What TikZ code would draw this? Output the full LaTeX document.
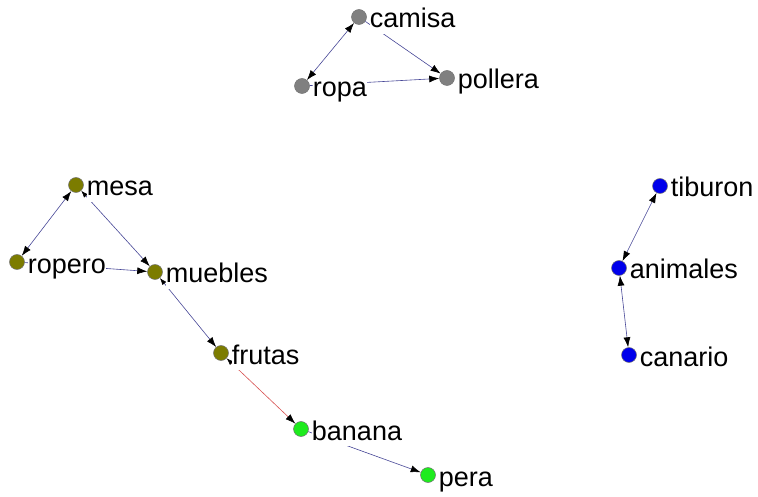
\documentclass[tikz,border=0pt]{standalone}
\usepackage{fontspec}
\setmainfont{Liberation Sans}
\usetikzlibrary{arrows.meta}

\definecolor{trait}{RGB}{70,70,150}
\definecolor{rouge}{RGB}{215,80,80}
\definecolor{gris}{RGB}{128,128,128}
\definecolor{olive}{RGB}{124,124,0}
\definecolor{vert}{RGB}{30,235,30}
\definecolor{bleu}{RGB}{0,0,235}

\tikzset{pointe/.tip={Latex[color=black,length=10pt,width=7pt]},
  petite/.tip={Latex[color=black,length=7pt,width=5pt]}}

\begin{document}
\begin{tikzpicture}[x=1pt,y=-1pt,
  sommet/.style={circle,draw=black!55,line width=0.5pt,minimum size=15pt,inner sep=0pt},
  arc/.style={draw=trait,line width=0.6pt},
  etiq/.style={anchor=base west,fill=white,inner sep=0pt,text height=19pt,text depth=6pt,
    font=\fontsize{27}{30}\selectfont,xshift=3pt,yshift=-11pt}]
\useasboundingbox (0,0) rectangle (758,497);

% ropa
\node[sommet,fill=gris] (camisa) at (359,17) {};
\node[sommet,fill=gris] (ropa) at (302,86) {};
\node[sommet,fill=gris] (pollera) at (447,78) {};
% muebles, frutas
\node[sommet,fill=olive] (mesa) at (76,185) {};
\node[sommet,fill=olive] (ropero) at (17,262) {};
\node[sommet,fill=olive] (muebles) at (155,272) {};
\node[sommet,fill=olive] (frutas) at (221,353) {};
\node[sommet,fill=vert] (banana) at (301,429) {};
\node[sommet,fill=vert] (pera) at (428,475) {};
% animales
\node[sommet,fill=bleu] (tiburon) at (660,186) {};
\node[sommet,fill=bleu] (animales) at (619,268) {};
\node[sommet,fill=bleu] (canario) at (629,355) {};

\draw[arc,pointe-pointe] (ropa) -- (camisa);
\draw[arc,-pointe] (camisa) -- (pollera);
\draw[arc,-pointe] (ropa) -- (pollera);
\draw[arc,pointe-pointe] (ropero) -- (mesa);
\draw[arc,petite-pointe] (mesa) -- (muebles);
\draw[arc,-pointe] (ropero) -- (muebles);
\draw[arc,petite-pointe] (muebles) -- (frutas);
\draw[arc,draw=rouge,petite-pointe] (frutas) -- (banana);
\draw[arc,-pointe] (banana) -- (pera);
\draw[arc,pointe-pointe] (animales) -- (tiburon);
\draw[arc,pointe-pointe] (animales) -- (canario);

% etiquettes par-dessus les arcs
\foreach \n in {camisa,ropa,pollera,mesa,ropero,muebles,frutas,banana,pera,tiburon,animales,canario}
  \node[etiq] at (\n.east) {\n};
\end{tikzpicture}
\end{document}
